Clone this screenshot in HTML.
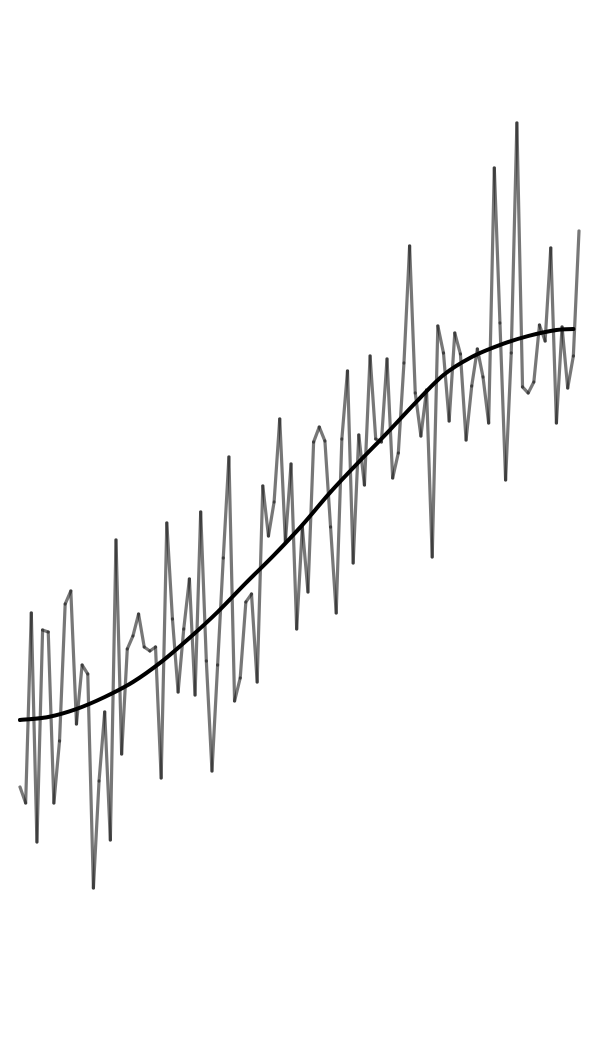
<!DOCTYPE html>
<html><head><meta charset="utf-8"><style>html,body{margin:0;padding:0;background:#fff}svg{display:block}</style></head>
<body>
<svg id="chart" width="600" height="1050" viewBox="0 0 600 1050"></svg>
<script>
// values = 1050 - pixel y (arbitrary units)
const noisyValues = [263,247,437,208,420,418,247,309,446,459,326,385,376,162,269,338,210,510,296,401,414,436,403,399,403,272,527,431,358,421,471,355,538,389,279,385,492,593,349,372,448,456,368,564,514,548,631,508,586,421,523,458,608,623,609,523,437,611,679,487,615,565,694,611,608,691,572,597,687,804,657,614,660,493,724,697,629,717,696,610,664,701,673,627,882,727,570,697,927,663,657,668,725,709,802,627,723,662,694,819];
const smoothIdx = [0,5,10,15,20,25,30,35,40,45,50,55,60,65,70,75,80,85,90,95,98];
const smoothValues = [330,333,341,353,368,388,412,438,467,495,525,558,588,617,647,675,693,705,714,720,721];

const svg = document.getElementById('chart');
const NS = 'http://www.w3.org/2000/svg';
const xScale = i => 20 + i * (559 / 99);
const yScale = v => 1050 - v;

const noisyGroup = document.createElementNS(NS, 'g');


svg.appendChild(noisyGroup);
for (let i = 1; i < noisyValues.length; i++) {
  const seg = document.createElementNS(NS, 'line');
  
  
  seg.setAttribute('x1', xScale(i - 1));
  seg.setAttribute('y1', yScale(noisyValues[i - 1]));
  seg.setAttribute('x2', xScale(i));
  seg.setAttribute('y2', yScale(noisyValues[i]));
  seg.setAttribute('stroke', 'rgba(20,20,20,0.58)');
  seg.setAttribute('stroke-width', '3.2');
  seg.setAttribute('stroke-linecap', 'round');
  noisyGroup.appendChild(seg);
}

const pts = smoothIdx.map((x, k) => [xScale(x), yScale(smoothValues[k])]);
let d = 'M' + pts[0][0] + ',' + pts[0][1];
for (let k = 0; k < pts.length - 1; k++) {
  const p0 = pts[k - 1] || pts[k], p1 = pts[k], p2 = pts[k + 1], p3 = pts[k + 2] || pts[k + 1];
  const c1 = [p1[0] + (p2[0] - p0[0]) / 6, p1[1] + (p2[1] - p0[1]) / 6];
  const c2 = [p2[0] - (p3[0] - p1[0]) / 6, p2[1] - (p3[1] - p1[1]) / 6];
  d += ' C' + c1[0].toFixed(2) + ',' + c1[1].toFixed(2) + ' ' + c2[0].toFixed(2) + ',' + c2[1].toFixed(2) + ' ' + p2[0].toFixed(2) + ',' + p2[1].toFixed(2);
}
const smooth = document.createElementNS(NS, 'path');


smooth.setAttribute('d', d);
smooth.setAttribute('fill', 'none');
smooth.setAttribute('stroke', '#000');
smooth.setAttribute('stroke-width', '4');
smooth.setAttribute('stroke-linejoin', 'round');
smooth.setAttribute('stroke-linecap', 'round');
svg.appendChild(smooth);
</script>
</body></html>
